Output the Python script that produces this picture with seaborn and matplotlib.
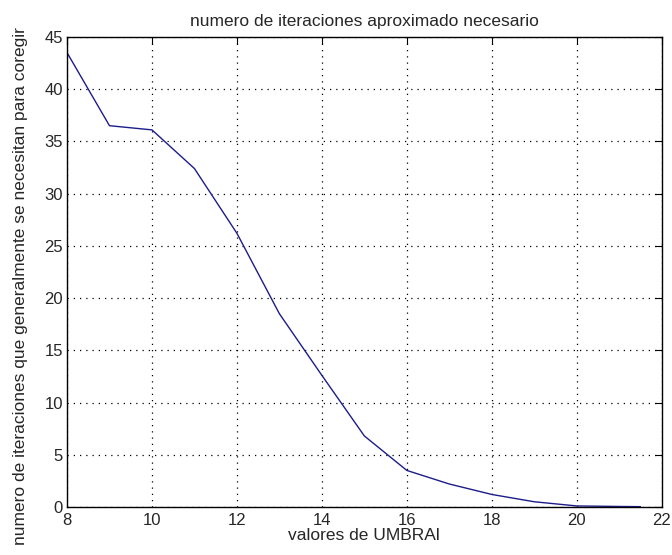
import pandas as pd
import seaborn as sns
import matplotlib
matplotlib.use('Agg')
import matplotlib.pyplot as plt

# valores
umbral = [8, 9, 10, 11, 12, 13, 14, 15, 16, 17, 18, 19, 20, 21, 21.5]
iteraciones = [43.5, 36.5, 36.1, 32.4, 26.2, 18.5, 12.6, 6.8, 3.5, 2.2, 1.2, 0.5, 0.1, 0.05, 0.03]

df = pd.DataFrame({'umbral': umbral, 'iteraciones': iteraciones})

sns.set_style('white')
plt.rcParams['font.family'] = ['Liberation Sans', 'DejaVu Sans']

fig = plt.figure(figsize=(6.72, 5.55), dpi=100)
ax = fig.add_axes([0.0997, 0.0865, 0.885, 0.847])

sns.lineplot(data=df, x='umbral', y='iteraciones', ax=ax, color='#1c1c8a', linewidth=1.0)

ax.set_xlim(8, 22)
ax.set_ylim(0, 45)
ax.set_xticks(range(8, 23, 2))
ax.set_yticks(range(0, 46, 5))
ax.grid(True, color='black', linestyle=(0, (1, 4)), linewidth=0.9)
ax.tick_params(direction='in', top=True, right=True, labelsize=12, length=5, color='black')
ax.tick_params(axis='x', pad=4)
ax.tick_params(axis='y', pad=3)
for s in ax.spines.values():
    s.set_color('black')
    s.set_linewidth(1.0)

ax.set_title('numero de iteraciones aproximado necesario', fontsize=12.5, pad=8)
ax.set_xlabel('valores de UMBRAl', fontsize=12.5, labelpad=0)
ax.set_ylabel('numero de iteraciones que generalmente se necesitan para coregir', fontsize=12.5, labelpad=2)
ax.yaxis.set_label_coords(-0.065, 0.47)

fig.savefig('out.png', dpi=100)
